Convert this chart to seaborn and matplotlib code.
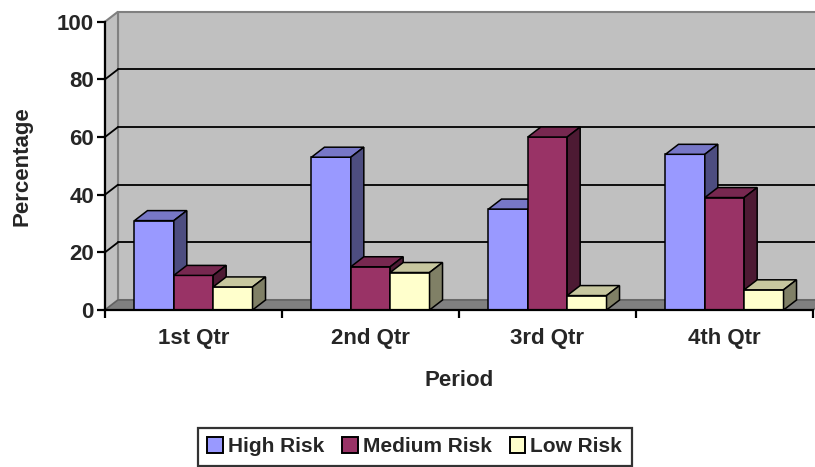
import numpy as np
import pandas as pd
import matplotlib
matplotlib.use('Agg')
import matplotlib.pyplot as plt
import seaborn as sns
from matplotlib.patches import Polygon, Rectangle, Patch
from matplotlib.colors import to_rgb

# ==================== data ====================
periods = ['1st Qtr', '2nd Qtr', '3rd Qtr', '4th Qtr']
risk_levels = ['High Risk', 'Medium Risk', 'Low Risk']
high_risk = [31, 53, 35, 54]
medium_risk = [12, 15, 60, 39]
low_risk = [8, 13, 5, 7]
y_ticks = [0, 20, 40, 60, 80, 100]

colors = {'High Risk': '#9999FF', 'Medium Risk': '#993366', 'Low Risk': '#FFFFCC'}

df = pd.DataFrame({
    'Period': periods * 3,
    'Risk': [r for r in risk_levels for _ in periods],
    'Percentage': high_risk + medium_risk + low_risk,
})

# ==================== style ====================
sns.set_theme(style='white')
plt.rcParams['font.family'] = ['Liberation Sans', 'DejaVu Sans']
plt.rcParams['font.weight'] = 'bold'

fig = plt.figure(figsize=(8.15, 4.67), dpi=100)
ax = fig.add_axes([105 / 815, 1 - 310 / 467, 708 / 815, 288.3 / 467])
ax.set_facecolor('none')

sns.barplot(data=df, x='Period', y='Percentage', hue='Risk',
            order=periods, hue_order=risk_levels, palette=colors,
            width=0.667, saturation=1, edgecolor='black', linewidth=1.1,
            legend=False, ax=ax)

# front faces from seaborn, sorted left to right
bars = sorted([p for p in ax.patches if isinstance(p, Rectangle)],
              key=lambda p: p.get_x())

ax.set_xlim(-0.5, len(periods) - 0.5)
ax.set_ylim(0, 100)

# 3D depth offset (in data units)
dx = 13 / 177
dy = 3.47
x0, x1 = -0.5, len(periods) - 0.5

# back wall, left wall, floor
ax.add_patch(Rectangle((x0 + dx, dy), x1 - x0, 100, facecolor='#C0C0C0',
                       edgecolor='#808080', lw=1.5, zorder=0, clip_on=False))
ax.add_patch(Polygon([(x0, 0), (x0 + dx, dy), (x0 + dx, 100 + dy), (x0, 100)],
                     closed=True, facecolor='#C0C0C0', edgecolor='#808080',
                     lw=1.5, zorder=0.5, clip_on=False))
ax.add_patch(Polygon([(x0, 0), (x1, 0), (x1 + dx, dy), (x0 + dx, dy)],
                     closed=True, facecolor='#808080', edgecolor='#606060',
                     lw=1, zorder=1, clip_on=False))

# gridlines on back wall + diagonals on left wall
for t in y_ticks[1:-1]:
    ax.plot([x0 + dx, x1 + dx], [t + dy, t + dy], color='black', lw=1.3,
            zorder=1, clip_on=False)
    ax.plot([x0, x0 + dx], [t, t + dy], color='black', lw=1.3, zorder=1,
            clip_on=False)


def shade(c, f):
    r, g, b = to_rgb(c)
    return (r * f, g * f, b * f)


# top and side faces of each bar, drawn left to right
for i, p in enumerate(bars):
    x, w, h = p.get_x(), p.get_width(), p.get_height()
    fc = p.get_facecolor()
    z = 3 + i * 0.01
    p.set_zorder(z)
    top = Polygon([(x, h), (x + w, h), (x + w + dx, h + dy), (x + dx, h + dy)],
                  closed=True, facecolor=shade(fc, 0.78), edgecolor='black',
                  lw=1.1, zorder=z, joinstyle='miter')
    side = Polygon([(x + w, 0), (x + w + dx, dy), (x + w + dx, h + dy), (x + w, h)],
                   closed=True, facecolor=shade(fc, 0.5), edgecolor='black',
                   lw=1.1, zorder=z, joinstyle='miter')
    ax.add_patch(top)
    ax.add_patch(side)

# ==================== axes ====================
for s in ['top', 'right']:
    ax.spines[s].set_visible(False)
for s in ['left', 'bottom']:
    ax.spines[s].set_color('black')
    ax.spines[s].set_linewidth(1.6)
    ax.spines[s].set_zorder(10)

ax.set_yticks(y_ticks)
ax.set_yticklabels([str(t) for t in y_ticks], fontsize=16, fontweight='bold')
ax.tick_params(axis='y', left=True, direction='out', length=6, width=1.6,
               color='black', pad=2)

ax.set_xticks(np.arange(len(periods)))
ax.set_xticklabels(periods, fontsize=16, fontweight='bold')
ax.set_xticks(np.arange(x0, x1 + 0.01, 1), minor=True)
ax.tick_params(axis='x', which='major', length=0, pad=13)
ax.tick_params(axis='x', which='minor', bottom=True, direction='out',
               length=6, width=1.6, color='black')

ax.set_xlabel('Period', fontsize=16, fontweight='bold')
ax.xaxis.set_label_coords(0.5, -(381 - 310) / 288.3)
ax.xaxis.label.set_va('center')
ax.set_ylabel('Percentage', fontsize=16, fontweight='bold')
ax.yaxis.set_label_coords((22 - 105) / 708, (310 - 166) / 288.3)
ax.yaxis.label.set_va('center')

# legend
handles = [Patch(facecolor=colors[r], edgecolor='black', linewidth=1.4, label=r)
           for r in risk_levels]
leg = fig.legend(handles=handles, loc='upper left',
                 bbox_to_anchor=(198 / 815, 1 - 428 / 467), ncol=3,
                 frameon=True, fancybox=False, edgecolor='black',
                 prop={'size': 15, 'weight': 'bold'}, handlelength=0.75,
                 handleheight=0.75, handletextpad=0.25, columnspacing=0.85,
                 borderpad=0.45, borderaxespad=0)
leg.get_frame().set_linewidth(1.6)

fig.savefig('out.png', dpi=100)
